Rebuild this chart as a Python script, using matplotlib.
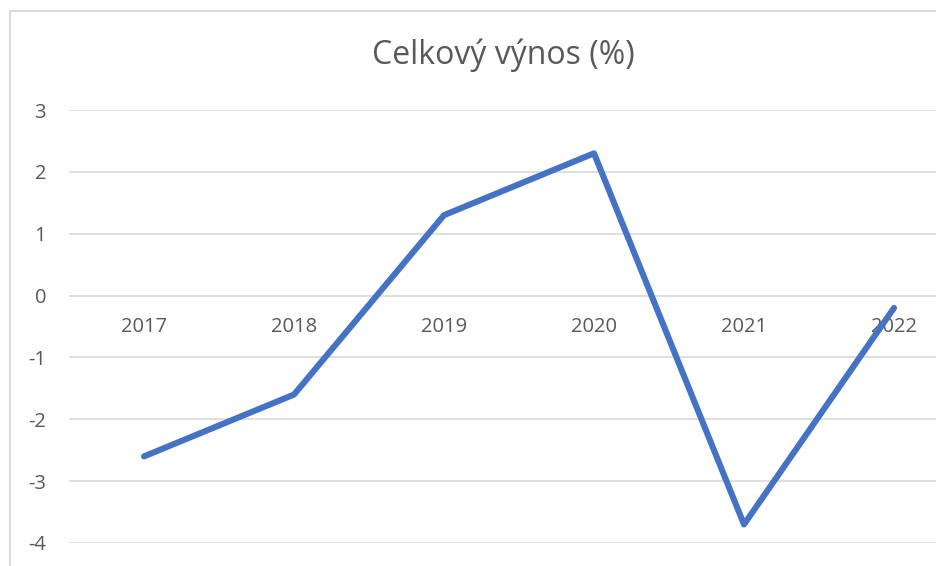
import matplotlib.pyplot as plt
from matplotlib.patches import Rectangle

years = ["2017", "2018", "2019", "2020", "2021", "2022"]
returns = [-2.6, -1.6, 1.3, 2.3, -3.7, -0.2]
y_ticks = [3, 2, 1, 0, -1, -2, -3, -4]

TEXT = "#595959"
GRID = "#D9D9D9"
LINE = "#4472C4"

plt.rcParams["font.family"] = ["Open Sans", "DejaVu Sans"]

fig = plt.figure(figsize=(9.36, 5.66), dpi=100)

# chart frame (cropped on the right and bottom in the original)
fig.patches.append(Rectangle((10 / 936, -0.1), 1.2, 1 - 11 / 566 + 0.1,
                             transform=fig.transFigure, fill=False,
                             edgecolor=GRID, linewidth=1.5))

ax = fig.add_axes([69 / 936, 23 / 566, 900 / 936, 433 / 566])
x = list(range(len(years)))
ax.plot(x, returns, color=LINE, linewidth=4.4, solid_capstyle="round",
        solid_joinstyle="round", zorder=3)

ax.set_xlim(-0.5, len(years) - 0.5)
ax.set_ylim(min(y_ticks), max(y_ticks))
ax.set_yticks(y_ticks)
ax.set_yticklabels([str(v) for v in y_ticks])
ax.set_xticks([])
ax.tick_params(axis="y", length=0, pad=16.5, labelsize=14.5, labelcolor=TEXT)
ax.yaxis.grid(True, color=GRID, linewidth=1.2)
ax.set_axisbelow(True)
for s in ax.spines.values():
    s.set_visible(False)
ax.patch.set_alpha(0)

# category labels sit just under the zero line
for i, yr in enumerate(years):
    ax.annotate(yr, (i, 0), xytext=(0, -22.5), textcoords="offset points",
                ha="center", va="center", fontsize=14.5, color=TEXT, zorder=2)

fig.text(503 / 936, 1 - 55 / 566, "Celkový výnos (%)", ha="center", va="center",
         fontsize=23, color=TEXT)

fig.savefig("out.png", dpi=100)
